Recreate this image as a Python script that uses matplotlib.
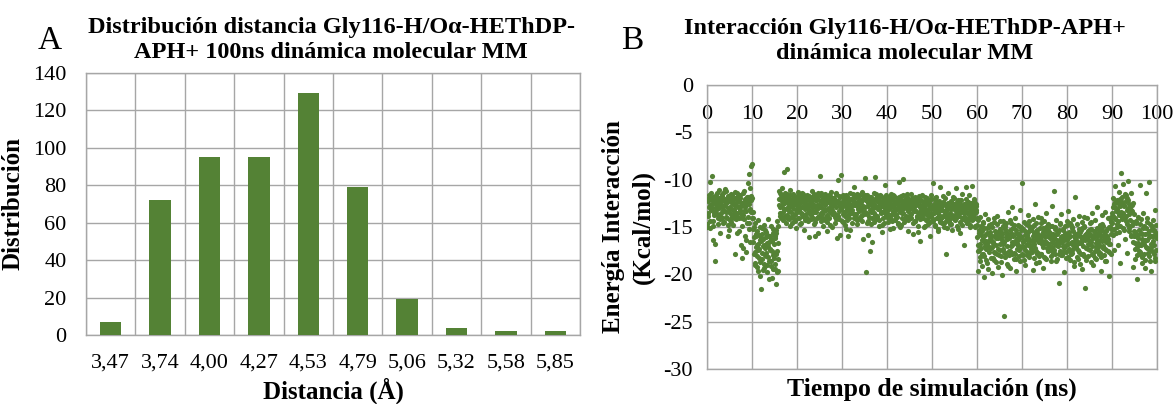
import numpy as np
import matplotlib
matplotlib.use("Agg")
import matplotlib.pyplot as plt

# ---- Panel A: distance histogram ----
distance_bins = ["3,47", "3,74", "4,00", "4,27", "4,53", "4,79", "5,06", "5,32", "5,58", "5,85"]
distance_counts = [7, 72, 95, 95, 129, 79, 19, 4, 2, 2]

# ---- Panel B: interaction energy along the trajectory ----
# Frames are stored as two interleaved sets, 8 frames per ns each:
# set 1 at t = k/8 ns, set 2 at t = (k + 0.5)/8 ns.
frames_per_ns = 8
energy_set1 = [
    -15.0, -12.3, -13.8, -11.6, -12.9, -14.4, -10.2, -13.1,
    -12.6, -9.6, -14.9, -16.4, -12.1, -13.5, -18.6, -11.9,
    -13.2, -11.4, -12.7, -14.1, -12.0, -13.8, -11.1, -15.6,
    -12.4, -13.9, -11.7, -12.8, -14.6, -12.2, -13.3, -11.3,
    -11.0, -13.4, -12.5, -14.0, -12.1, -16.0, -13.0, -11.8,
    -12.9, -14.3, -11.5, -13.6, -12.2, -13.9, -12.6, -14.8,
    -13.1, -11.9, -17.9, -12.7, -14.2, -11.4, -13.5, -12.3,
    -12.0, -15.4, -13.2, -11.6, -16.9, -12.8, -14.0, -18.3,
    -13.7, -12.4, -11.2, -15.9, -12.9, -17.6, -13.3, -11.8,
    -12.5, -10.3, -14.6, -9.4, -13.1, -16.6, -11.7, -8.6,
    -8.3, -13.4, -15.2, -17.9, -16.1, -14.6, -18.8, -15.7,
    -16.9, -19.2, -14.3, -17.4, -15.8, -18.3, -16.4, -20.2,
    -21.6, -15.1, -17.7, -19.5, -16.3, -14.8, -18.9, -17.2,
    -15.5, -18.1, -16.7, -19.8, -14.2, -17.0, -18.6, -16.0,
    -17.3, -14.9, -19.1, -16.5, -20.4, -15.6, -18.0, -17.8,
    -16.2, -19.4, -15.3, -21.0, -17.5, -14.4, -18.4, -19.6,
    -11.2, -12.9, -13.8, -11.6, -14.1, -12.3, -10.9, -13.4,
    -12.5, -9.2, -13.1, -11.4, -14.6, -12.0, -8.9, -13.7,
    -11.8, -13.3, -12.2, -14.9, -11.1, -12.8, -13.9, -12.4,
    -13.0, -11.5, -14.2, -12.6, -11.9, -13.6, -12.1, -15.1,
    -12.7, -14.0, -11.3, -13.2, -12.4, -14.7, -11.7, -13.5,
    -11.4, -12.9, -13.8, -12.2, -15.3, -11.8, -13.1, -12.5,
    -13.6, -12.0, -11.6, -14.4, -12.8, -13.3, -16.1, -11.9,
    -12.3, -13.7, -11.2, -12.9, -14.1, -12.6, -13.4, -11.5,
    -14.5, -12.2, -13.0, -11.7, -12.7, -15.6, -13.9, -12.1,
    -9.6, -12.8, -13.5, -11.4, -14.0, -12.3, -13.1, -11.9,
    -12.6, -14.3, -11.8, -13.2, -12.0, -13.7, -15.4, -12.4,
    -11.6, -13.0, -12.5, -14.8, -11.3, -12.9, -13.6, -12.2,
    -13.4, -11.9, -12.7, -13.9, -12.1, -14.2, -11.5, -16.2,
    -10.0, -12.4, -13.3, -11.7, -15.8, -12.8, -9.5, -13.1,
    -12.9, -14.5, -11.6, -13.4, -12.2, -13.8, -12.6, -15.2,
    -11.8, -13.1, -16.0, -12.5, -14.0, -12.1, -13.5, -11.4,
    -13.2, -12.0, -14.6, -11.9, -12.7, -13.6, -10.8, -12.4,
    -12.6, -13.9, -11.5, -14.3, -12.9, -11.7, -13.3, -12.2,
    -14.1, -12.4, -13.0, -11.3, -13.7, -16.3, -12.8, -11.9,
    -9.8, -13.4, -12.1, -19.8, -13.6, -11.6, -14.4, -12.5,
    -12.3, -17.5, -13.2, -11.8, -14.7, -12.6, -16.6, -13.0,
    -11.4, -13.5, -9.7, -12.9, -14.2, -12.0, -13.8, -11.7,
    -13.1, -12.2, -14.9, -11.6, -12.8, -13.4, -12.5, -15.5,
    -12.7, -14.0, -11.9, -13.3, -12.4, -10.6, -13.7, -12.1,
    -13.5, -12.3, -14.5, -11.8, -13.0, -12.6, -14.1, -11.5,
    -12.0, -13.6, -12.8, -15.1, -11.7, -13.2, -12.5, -14.3,
    -13.8, -11.9, -13.1, -12.4, -14.6, -12.9, -10.2, -13.4,
    -12.2, -14.8, -12.6, -13.5, -11.6, -9.9, -13.0, -12.7,
    -14.2, -12.5, -13.9, -11.8, -12.9, -15.4, -13.3, -12.1,
    -12.8, -13.7, -11.5, -14.0, -12.4, -13.1, -15.7, -12.6,
    -13.3, -12.0, -14.4, -12.7, -11.9, -13.8, -12.3, -14.9,
    -11.7, -13.5, -12.9, -16.5, -13.2, -12.1, -14.1, -12.8,
    -13.6, -12.4, -15.0, -11.8, -13.0, -14.3, -12.6, -13.4,
    -12.1, -14.7, -13.1, -12.5, -15.9, -12.9, -11.6, -13.8,
    -13.0, -10.4, -14.2, -12.6, -13.5, -11.9, -14.8, -12.7,
    -14.0, -12.8, -13.4, -15.2, -12.3, -13.9, -10.8, -14.5,
    -12.9, -14.6, -13.2, -11.7, -13.8, -15.0, -12.5, -13.6,
    -13.3, -17.8, -12.7, -14.1, -13.0, -11.4, -14.4, -12.9,
    -14.7, -13.1, -12.4, -13.7, -15.3, -12.8, -13.9, -11.9,
    -12.6, -14.2, -13.6, -10.9, -12.9, -14.9, -13.2, -12.3,
    -13.8, -12.2, -15.6, -13.4, -12.7, -14.0, -11.5, -13.1,
    -16.9, -13.5, -12.6, -14.3, -13.0, -10.8, -14.6, -12.8,
    -12.4, -13.9, -11.6, -13.3, -14.8, -12.9, -13.6, -10.7,
    -13.7, -12.5, -14.1, -12.0, -13.4, -15.0, -12.8, -13.2,
    -14.8, -16.9, -19.6, -15.3, -17.4, -13.9, -18.2, -15.8,
    -16.4, -19.1, -14.5, -17.8, -15.1, -20.3, -16.7, -13.6,
    -18.5, -15.6, -16.9, -14.2, -19.4, -17.1, -15.0, -16.3,
    -17.2, -14.7, -19.9, -15.9, -16.6, -18.3, -14.1, -17.6,
    -15.4, -18.7, -16.2, -13.8, -17.9, -15.7, -19.2, -16.0,
    -16.8, -14.4, -18.1, -15.5, -20.1, -16.4, -14.9, -17.3,
    -24.4, -15.2, -17.7, -14.6, -16.1, -18.9, -15.8, -13.4,
    -17.5, -16.0, -14.3, -19.3, -15.6, -17.0, -12.9, -16.6,
    -15.1, -18.4, -16.7, -14.0, -17.8, -15.3, -19.7, -16.2,
    -16.9, -14.8, -17.4, -15.7, -13.2, -18.6, -16.1, -15.0,
    -10.3, -16.5, -18.0, -14.5, -17.1, -15.4, -19.0, -16.3,
    -15.8, -17.6, -13.7, -16.9, -14.9, -18.2, -15.2, -17.0,
    -17.3, -15.0, -16.4, -19.5, -14.2, -16.8, -15.6, -12.6,
    -14.6, -18.8, -16.0, -15.3, -17.7, -13.9, -16.6, -18.1,
    -16.2, -14.1, -17.9, -15.8, -16.5, -19.3, -15.1, -14.4,
    -18.3, -16.7, -15.4, -13.5, -17.2, -15.9, -16.8, -14.7,
    -15.5, -17.4, -14.9, -18.6, -16.0, -12.8, -17.1, -15.7,
    -11.2, -16.3, -15.0, -17.8, -14.3, -16.9, -18.4, -15.6,
    -16.6, -20.9, -15.3, -14.6, -17.5, -16.1, -13.6, -18.0,
    -15.2, -17.0, -16.4, -19.8, -14.9, -15.8, -17.6, -16.2,
    -14.4, -16.8, -13.3, -17.3, -15.5, -18.5, -16.0, -14.8,
    -17.7, -15.1, -16.9, -14.2, -19.1, -15.9, -11.8, -16.5,
    -16.0, -18.2, -14.7, -15.6, -17.4, -13.8, -16.7, -18.9,
    -15.3, -16.6, -19.4, -14.5, -16.1, -17.9, -15.0, -13.9,
    -21.4, -15.7, -17.2, -16.3, -14.0, -18.1, -15.4, -16.8,
    -16.5, -14.6, -18.7, -15.2, -17.0, -13.5, -16.2, -19.0,
    -15.9, -17.5, -14.3, -16.7, -18.4, -15.1, -12.9, -17.1,
    -17.8, -15.5, -16.4, -14.8, -19.6, -16.0, -15.3, -13.7,
    -14.9, -18.0, -15.7, -17.3, -13.4, -16.6, -18.6, -15.2,
    -16.3, -14.1, -17.6, -20.2, -15.0, -16.8, -14.5, -17.9,
    -13.5, -11.9, -15.8, -12.6, -17.4, -14.2, -10.7, -13.0,
    -12.2, -14.7, -16.9, -13.4, -11.3, -15.5, -12.8, -18.8,
    -9.3, -13.9, -12.4, -15.1, -10.5, -14.0, -12.7, -16.3,
    -14.4, -11.6, -13.2, -17.7, -12.1, -10.1, -15.4, -13.6,
    -12.9, -15.9, -11.4, -14.8, -13.3, -19.2, -12.5, -16.0,
    -16.7, -18.4, -14.6, -15.8, -20.5, -17.1, -13.9, -16.2,
    -15.3, -17.6, -10.6, -16.9, -14.2, -18.8, -15.7, -13.5,
    -17.9, -14.9, -16.4, -19.3, -15.1, -11.4, -17.2, -14.0,
    -15.6, -10.2, -18.1, -16.0, -14.7, -17.4, -19.7, -15.2,
    -16.5, -14.3, -17.8, -15.4, -13.2, -18.6, -16.1, -14.8,
    -15.9,
]
energy_set2 = [
    -14.7, -12.0, -13.5, -11.9, -15.1, -12.7, -13.2, -11.4,
    -13.0, -12.2, -14.4, -11.8, -13.7, -12.5, -16.8, -12.9,
    -11.6, -13.6, -12.3, -14.7, -11.9, -13.0, -12.6, -14.2,
    -13.5, -12.1, -14.0, -11.5, -13.2, -12.8, -14.5, -12.0,
    -12.7, -11.2, -13.9, -12.4, -14.8, -11.7, -13.4, -15.3,
    -11.8, -13.1, -12.4, -14.5, -11.6, -13.7, -12.2, -13.3,
    -14.0, -12.6, -11.3, -13.8, -12.1, -15.6, -12.9, -11.7,
    -12.3, -14.1, -12.8, -11.9, -13.6, -14.9, -12.5, -17.2,
    -11.4, -13.3, -14.2, -12.0, -16.4, -12.7, -14.6, -12.2,
    -13.9, -11.8, -12.6, -15.2, -10.9, -13.4, -12.1, -14.0,
    -11.9, -14.1, -16.6, -15.0, -17.6, -19.0, -15.9, -17.1,
    -18.1, -15.4, -16.8, -19.6, -17.3, -15.0, -18.7, -16.2,
    -16.5, -18.4, -15.7, -17.0, -19.3, -16.9, -15.3, -18.0,
    -17.7, -16.1, -19.0, -15.8, -18.2, -16.6, -20.5, -17.4,
    -15.9, -18.6, -16.3, -17.5, -15.2, -19.4, -16.8, -18.3,
    -18.9, -16.0, -17.8, -15.6, -19.8, -16.7, -14.9, -12.7,
    -12.0, -13.5, -11.4, -12.8, -13.9, -11.8, -12.6, -14.3,
    -13.1, -11.7, -12.4, -13.8, -12.2, -14.0, -11.5, -12.9,
    -12.5, -14.2, -12.9, -11.6, -13.4, -12.1, -14.6, -12.7,
    -11.9, -12.6, -13.7, -12.3, -14.4, -11.8, -13.2, -12.0,
    -13.4, -11.6, -12.9, -14.1, -12.5, -13.0, -11.9, -14.6,
    -12.1, -13.6, -12.4, -11.5, -13.9, -12.8, -14.3, -12.2,
    -12.8, -11.9, -14.0, -13.1, -11.7, -12.6, -13.5, -12.3,
    -14.2, -12.5, -11.8, -13.3, -12.9, -14.7, -12.0, -15.9,
    -11.7, -13.4, -12.2, -14.1, -11.4, -13.0, -12.7, -13.8,
    -12.9, -11.6, -14.4, -12.3, -13.6, -12.1, -14.9, -11.8,
    -13.3, -12.7, -11.5, -13.9, -12.4, -14.5, -11.9, -13.1,
    -12.2, -14.0, -13.4, -11.7, -12.8, -13.2, -15.0, -12.6,
    -11.9, -13.5, -12.0, -14.6, -12.9, -11.4, -13.7, -12.4,
    -13.8, -12.3, -14.2, -12.6, -11.8, -13.0, -12.5, -14.4,
    -12.4, -11.7, -13.6, -12.1, -14.8, -12.7, -11.6, -13.3,
    -14.3, -12.9, -11.9, -13.7, -12.2, -15.3, -12.8, -13.5,
    -12.0, -13.2, -12.6, -11.5, -14.1, -12.4, -13.9, -12.7,
    -13.6, -11.8, -14.7, -12.5, -13.1, -11.6, -12.9, -14.2,
    -12.5, -13.8, -12.1, -14.4, -11.7, -13.3, -12.0, -13.6,
    -11.6, -12.9, -13.5, -12.2, -14.6, -12.8, -15.8, -11.9,
    -13.9, -12.4, -11.8, -13.4, -12.7, -14.1, -12.3, -13.0,
    -12.6, -14.5, -12.0, -13.7, -11.5, -12.9, -14.0, -12.4,
    -11.8, -13.1, -14.3, -12.6, -13.5, -11.7, -12.8, -14.8,
    -13.4, -12.2, -12.9, -14.6, -12.0, -13.8, -11.6, -13.2,
    -12.7, -14.0, -11.9, -13.1, -15.2, -12.5, -13.7, -12.1,
    -14.4, -12.8, -13.3, -11.6, -12.9, -14.2, -12.4, -13.6,
    -12.3, -13.9, -12.6, -14.7, -11.8, -13.0, -12.2, -15.0,
    -13.1, -11.7, -14.1, -12.9, -13.5, -12.4, -14.5, -12.0,
    -12.6, -13.8, -12.1, -11.5, -14.3, -13.2, -12.7, -13.9,
    -14.0, -12.3, -13.6, -12.8, -11.9, -14.6, -13.0, -12.5,
    -12.9, -14.4, -11.8, -13.3, -12.6, -13.9, -15.5, -12.2,
    -13.7, -12.1, -14.2, -12.7, -13.4, -11.6, -12.9, -14.0,
    -12.4, -13.2, -12.8, -14.9, -12.1, -13.6, -11.9, -13.3,
    -14.1, -12.6, -13.8, -12.3, -14.5, -12.0, -13.5, -12.8,
    -13.6, -12.9, -14.4, -13.1, -12.2, -14.9, -13.4, -11.8,
    -12.5, -14.1, -13.0, -15.4, -13.7, -12.6, -14.3, -13.2,
    -14.0, -12.7, -13.9, -12.4, -14.6, -13.3, -11.9, -13.8,
    -12.8, -14.4, -13.1, -15.1, -12.5, -13.7, -14.2, -12.9,
    -13.5, -12.3, -14.7, -13.0, -11.8, -14.1, -12.6, -13.9,
    -14.3, -13.2, -12.5, -14.0, -13.6, -12.1, -15.2, -13.0,
    -12.7, -14.5, -13.4, -12.2, -14.8, -13.1, -12.8, -14.2,
    -13.9, -12.6, -14.1, -13.3, -12.0, -14.6, -13.5, -12.4,
    -14.4, -13.0, -12.7, -15.0, -13.8, -12.5, -14.3, -13.1,
    -12.9, -14.2, -13.6, -12.3, -14.9, -13.4, -12.6, -14.0,
    -16.1, -14.3, -17.5, -15.6, -18.6, -16.8, -14.9, -17.2,
    -15.4, -17.9, -16.3, -14.6, -18.1, -15.8, -17.0, -16.5,
    -17.3, -15.1, -18.8, -16.6, -14.8, -17.6, -16.0, -15.5,
    -16.4, -18.3, -15.0, -17.1, -16.7, -14.5, -18.5, -15.9,
    -17.7, -15.6, -16.9, -14.7, -17.3, -16.2, -15.4, -18.0,
    -15.2, -17.4, -16.1, -18.7, -15.7, -16.8, -14.4, -17.6,
    -16.6, -14.9, -18.2, -15.5, -17.0, -16.3, -19.1, -15.8,
    -18.0, -16.2, -15.3, -17.5, -14.6, -16.9, -17.8, -15.1,
    -16.0, -17.7, -14.8, -16.5, -18.4, -15.6, -16.8, -17.3,
    -15.7, -16.4, -18.1, -14.9, -17.2, -16.1, -15.3, -17.9,
    -17.0, -15.2, -16.6, -18.5, -15.8, -17.4, -14.7, -16.3,
    -16.8, -18.0, -15.5, -16.2, -14.4, -17.7, -16.5, -15.0,
    -15.3, -16.9, -17.6, -15.9, -18.3, -14.8, -16.4, -17.2,
    -17.5, -15.4, -16.1, -17.9, -15.7, -16.6, -18.7, -15.1,
    -16.3, -17.8, -14.6, -16.8, -17.1, -15.5, -16.0, -18.2,
    -15.9, -16.5, -18.4, -15.0, -16.7, -17.5, -15.3, -16.9,
    -17.3, -15.6, -16.2, -18.1, -14.9, -16.6, -17.7, -15.8,
    -16.1, -17.4, -15.2, -16.8, -18.6, -15.7, -16.4, -17.0,
    -15.5, -16.7, -17.9, -14.7, -16.3, -18.0, -15.9, -16.6,
    -17.6, -15.3, -16.0, -17.2, -15.6, -16.9, -18.3, -14.8,
    -16.4, -18.2, -15.8, -16.1, -17.5, -14.6, -16.7, -17.8,
    -15.0, -16.6, -17.3, -15.4, -18.7, -16.2, -15.7, -16.9,
    -17.1, -15.9, -16.5, -18.4, -15.2, -17.6, -16.0, -15.5,
    -16.7, -17.9, -15.1, -16.3, -17.0, -14.9, -18.1, -16.4,
    -15.8, -16.2, -18.5, -15.6, -16.8, -17.3, -15.3, -16.0,
    -17.4, -15.7, -16.6, -14.5, -17.8, -16.1, -18.0, -15.4,
    -16.0, -18.3, -15.5, -17.1, -16.4, -15.9, -17.5, -16.8,
    -15.6, -16.9, -17.7, -15.2, -18.2, -16.5, -14.7, -17.0,
    -17.2, -15.8, -16.3, -18.6, -15.4, -17.4, -16.1, -15.9,
    -16.6, -17.5, -15.0, -16.8, -14.2, -15.7, -13.9, -15.3,
    -14.6, -12.9, -13.8, -15.2, -12.4, -14.1, -13.3, -15.6,
    -13.1, -15.0, -12.5, -14.4, -13.7, -12.0, -14.9, -13.4,
    -12.6, -14.2, -11.8, -13.5, -15.3, -12.8, -13.9, -11.5,
    -13.8, -12.3, -14.7, -11.9, -13.0, -15.1, -12.6, -14.3,
    -14.9, -13.2, -15.8, -12.7, -14.5, -16.6, -13.6, -15.4,
    -15.5, -17.3, -16.0, -14.4, -18.0, -15.8, -16.7, -17.5,
    -16.9, -14.7, -17.8, -15.6, -16.3, -18.2, -15.1, -16.6,
    -15.0, -16.8, -18.5, -15.7, -17.1, -14.5, -16.4, -17.7,
    -17.2, -15.4, -16.1, -18.6, -15.9, -16.8, -14.9, -17.0,
    -16.0, -17.6, -15.3, -16.9, -18.3, -15.6, -17.4, -16.2,
]
time_set1 = np.arange(len(energy_set1)) / frames_per_ns
time_set2 = (np.arange(len(energy_set2)) + 0.5) / frames_per_ns
sim_time = np.concatenate([time_set1, time_set2])
interaction_energy = np.concatenate([energy_set1, energy_set2])

GREEN = "#548235"
GRID = "#a6a6a6"
FONT = ["Liberation Serif", "DejaVu Serif"]

plt.rcParams["font.family"] = FONT
plt.rcParams["axes.unicode_minus"] = False

fig = plt.figure(figsize=(11.75, 4.04), dpi=100)

# ---------------- Panel A ----------------
axA = fig.add_axes([86 / 1175, 1 - 335 / 404, 494 / 1175, (335 - 72.7) / 404])
xpos = np.arange(len(distance_bins))
axA.bar(xpos, distance_counts, width=0.43, color=GREEN, zorder=3)
axA.set_xlim(-0.5, len(distance_bins) - 0.5)
axA.set_ylim(0, 140)
axA.set_yticks(np.arange(0, 141, 20))
axA.set_xticks(xpos)
axA.set_xticklabels(distance_bins)
axA.set_xticks(np.arange(-0.5, len(distance_bins)), minor=True)
axA.grid(True, which="minor", axis="x", color=GRID, lw=1.0, zorder=0)
axA.grid(True, which="major", axis="y", color=GRID, lw=1.0, zorder=0)
axA.tick_params(which="both", length=0, labelsize=16)
axA.tick_params(axis="y", pad=14)
axA.tick_params(axis="x", pad=13)
for s in axA.spines.values():
    s.set_color(GRID)
    s.set_linewidth(1.0)
axA.set_xlabel("Distancia (Å)", fontsize=18, fontweight="bold", labelpad=4)
axA.set_ylabel("Distribución", fontsize=18, fontweight="bold", labelpad=6)

fig.text(331 / 1175, 1 - 40 / 404,
         "Distribución distancia Gly116-H/Oα-HEThDP-\nAPH+ 100ns dinámica molecular MM",
         ha="center", va="center", fontsize=17.5, fontweight="bold", linespacing=1.2)
fig.text(50 / 1175, 1 - 41 / 404, "A", ha="center", va="center", fontsize=24)

# ---------------- Panel B ----------------
axB = fig.add_axes([707 / 1175, 1 - 369 / 404, 450 / 1175, (369 - 85) / 404])
axB.scatter(sim_time, interaction_energy, s=14, color=GREEN, linewidths=0, zorder=3)
axB.set_xlim(0, 100)
axB.set_ylim(-30, 0)
axB.set_xticks(np.arange(0, 101, 10))
axB.set_yticks(np.arange(-30, 1, 5))
axB.grid(True, color=GRID, lw=1.0, zorder=0)
axB.xaxis.tick_top()
axB.tick_params(axis="x", top=True, bottom=False, labeltop=True, labelbottom=False,
                length=0, pad=-28, labelsize=16)
axB.tick_params(axis="y", length=0, pad=10, labelsize=16)
for s in axB.spines.values():
    s.set_color(GRID)
    s.set_linewidth(1.0)
axB.set_xlabel("Tiempo de simulación (ns)", fontsize=18.5, fontweight="bold", labelpad=6)
axB.xaxis.set_label_position("bottom")
axB.set_ylabel("Energía Interacción\n(Kcal/mol)", fontsize=18, fontweight="bold",
               labelpad=6, linespacing=1.35)

fig.text(905 / 1175, 1 - 41 / 404,
         "Interacción Gly116-H/Oα-HEThDP-APH+\ndinámica molecular MM",
         ha="center", va="center", fontsize=17.5, fontweight="bold", linespacing=1.2)
fig.text(632 / 1175, 1 - 41 / 404, "B", ha="center", va="center", fontsize=24)

fig.savefig("out.png", dpi=100)
